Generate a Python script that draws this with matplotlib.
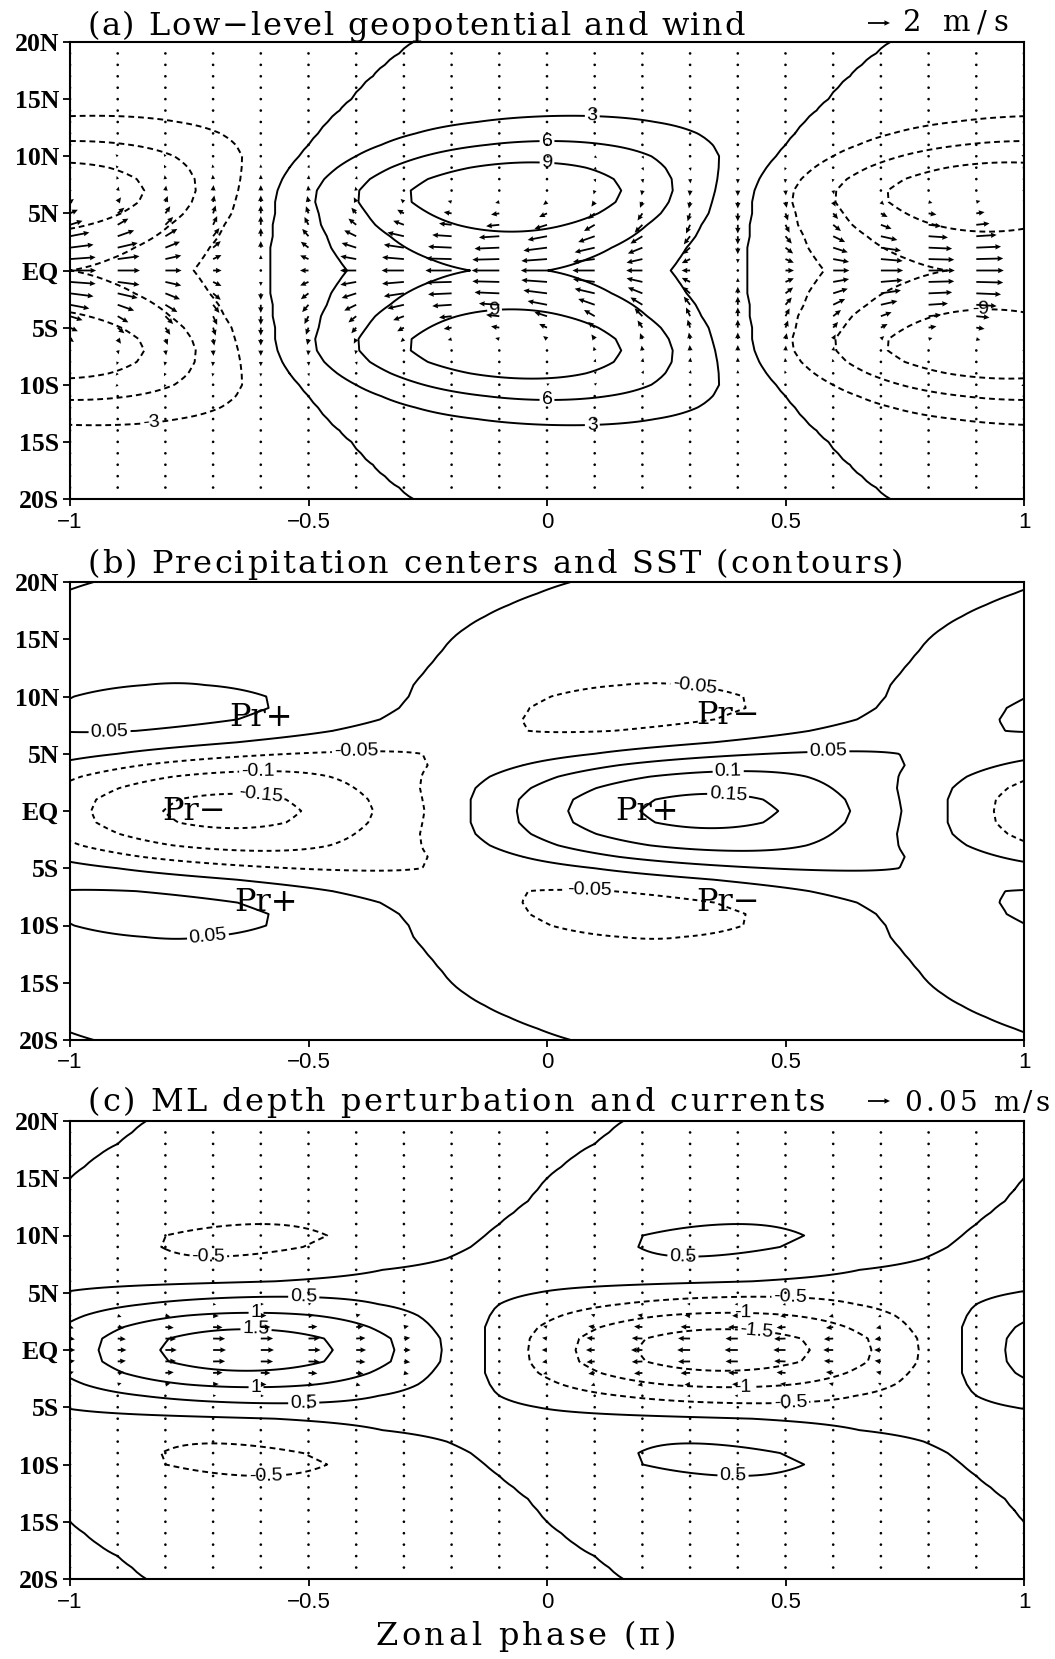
import numpy as np
import matplotlib.pyplot as plt
from matplotlib.font_manager import FontProperties

plt.rcParams['font.family'] = ['Liberation Sans', 'DejaVu Sans']
plt.rcParams['axes.linewidth'] = 1.5

# profile latitudes (deg), mirrored onto the southern side
prof_lat = list(range(0, 21))

# (a) low-level geopotential: amplitude and zonal phase of the high, per latitude
phi_amp = [6.2, 6.9, 7.7, 8.6, 9.6, 10.6, 11.5, 11.7, 11.0, 9.7, 8.2,
           6.5, 5.0, 3.6, 2.5, 1.7, 1.1, 0.7, 0.45, 0.3, 0.2]
phi_pos = [-0.08, -0.08, -0.08, -0.075, -0.075, -0.07, -0.07, -0.065, -0.055, -0.04, -0.02,
           0.0, 0.02, 0.04, 0.065, 0.09, 0.11, 0.135, 0.16, 0.19, 0.22]
# (a) wind amplitudes (m/s)
wind_u_amp = [2.5, 2.45, 2.25, 1.85, 1.2, 0.75, 0.37, 0.12, -0.12, -0.22, -0.25,
              -0.22, -0.18, -0.15, -0.12, -0.1, -0.07, -0.06, -0.05, -0.04, -0.04]
wind_v_amp = [0.0, 0.37, 0.6, 0.75, 0.8, 0.73, 0.6, 0.5, 0.4, 0.3, 0.25,
              0.2, 0.16, 0.13, 0.11, 0.1, 0.085, 0.07, 0.06, 0.05, 0.04]
wind_u_pos = -0.1
wind_v_pos = -0.65

# (b) SST
sst_amp = [0.167, 0.16, 0.14, 0.115, 0.085, 0.055, 0.042, 0.052, 0.062, 0.066, 0.062,
           0.051, 0.045, 0.038, 0.032, 0.026, 0.021, 0.017, 0.014, 0.012, 0.01]
sst_pos = [0.34, 0.34, 0.35, 0.38, 0.45, 0.6, 0.85, 1.05, 1.15, 1.19, 1.21,
           1.22, 1.24, 1.26, 1.28, 1.30, 1.33, 1.37, 1.42, 1.48, 1.55]

# (c) ML depth perturbation
mld_amp = [1.78, 1.72, 1.45, 1.1, 0.7, 0.4, 0.15, 0.3, 0.49, 0.56, 0.58,
           0.5, 0.4, 0.32, 0.25, 0.2, 0.16, 0.13, 0.1, 0.08, 0.06]
mld_pos = [-0.63, -0.63, -0.63, -0.62, -0.6, -0.52, -0.07, 0.155, 0.29, 0.34, 0.37,
           0.4, 0.43, 0.46, 0.48, 0.5, 0.53, 0.56, 0.6, 0.63, 0.66]
# (c) currents (m/s)
cur_u_amp = [0.03, 0.028, 0.022, 0.013, 0.007, 0.004, 0.002, 0.002, 0.002, 0.002, 0.002,
             0.002, 0.002, 0.002, 0.002, 0.002, 0.002, 0.002, 0.002, 0.002, 0.002]
cur_v_amp = [0.0, 0.002, 0.003, 0.004, 0.004, 0.004, 0.003, 0.003, 0.003, 0.002, 0.002,
             0.002, 0.002, 0.002, 0.002, 0.002, 0.002, 0.002, 0.002, 0.002, 0.002]
cur_pos = -0.63

phi_levels = [-9, -6, -3, 0, 3, 6, 9]
sst_levels = [-0.15, -0.1, -0.05, 0, 0.05, 0.1, 0.15]
mld_levels = [-1.5, -1, -0.5, 0, 0.5, 1, 1.5]

lat_ticks = [-20, -15, -10, -5, 0, 5, 10, 15, 20]
lat_labels = ['20S', '15S', '10S', '5S', 'EQ', '5N', '10N', '15N', '20N']
x_ticks = [-1, -0.5, 0, 0.5, 1]
x_labels = ['\u22121', '\u22120.5', '0', '0.5', '1']


def both_sides(p, odd=False):
    p = np.asarray(p, float)
    s = -p[:0:-1] if odd else p[:0:-1]
    return np.concatenate([s, p])


lat = both_sides(prof_lat, odd=True)
x = np.linspace(-1, 1, 201)
xq = np.linspace(-1, 1, 21)


def wave(amp, pos, xx):
    amp = np.asarray(amp)[:, None]
    pos = np.asarray(pos)[:, None] if np.ndim(pos) else pos
    return amp * np.cos(np.pi * (xx[None, :] - pos))


def fmt(v):
    return f'{v:g}'


serif = 'DejaVu Serif'
W, H = 1055, 1659
fig = plt.figure(figsize=(W / 100, H / 100), dpi=100)
axa = fig.add_axes([70 / W, 1 - 499 / H, 954 / W, 457 / H])
axb = fig.add_axes([70 / W, 1 - 1040 / H, 954 / W, 458 / H])
axc = fig.add_axes([70 / W, 1 - 1579 / H, 954 / W, 458 / H])
rend = fig.canvas.get_renderer()


def tracked(x0, base, s, width, size=23):
    # letter-spaced text spread over a given pixel width
    fp = FontProperties(family=serif, size=size)

    def tw(t):
        return rend.get_text_width_height_descent(t + '|', fp, ismath=False)[0] - \
            rend.get_text_width_height_descent('|', fp, ismath=False)[0]

    extra = (width - tw(s)) / max(len(s) - 1, 1)
    for i, ch in enumerate(s):
        if ch == ' ':
            continue
        fig.text((x0 + tw(s[:i]) + i * extra) / W, 1 - base / H, ch, ha='left',
                 va='baseline', fontproperties=fp)


def draw_contours(ax, field, levels, dash):
    ls = [(0, dash) if l < 0 else 'solid' for l in levels]
    return ax.contour(x, lat, field, levels=levels, colors='k',
                      linewidths=1.4, linestyles=ls)


def label(cs, pts):
    return cs.clabel(manual=pts, fmt=fmt, fontsize=14, inline=True, inline_spacing=2)


qkw = dict(units='dots', width=1.8, scale_units='inches', headwidth=3,
           headlength=3.2, headaxislength=3, minlength=1.6, pivot='tail', color='k')

# (a)
phi = wave(both_sides(phi_amp), both_sides(phi_pos), x)
csa = draw_contours(axa, phi, phi_levels, (3, 2))
label(csa, [(0.095, 13.6), (0.095, -13.5), (0.0, 11.25), (0.0, -11.3),
            (0.0, 9.4), (-0.11, -3.4), (0.91, -3.4), (-0.83, -13.5)])
uq = -wave(both_sides(wind_u_amp), wind_u_pos, xq)[1:-1]
vq = wave(both_sides(wind_v_amp, odd=True), wind_v_pos, xq)[1:-1]
qa = axa.quiver(xq, lat[1:-1], uq, vq, scale=2 / 0.22, **qkw)
axa.quiverkey(qa, 890 / W, 1 - 23 / H, 2, '', labelpos='E', coordinates='figure')
tracked(903, 31, '2 m/s', 105, size=21)
tracked(87, 35, '(a) Low\u2212level geopotential and wind', 658)

# (b)
sst = wave(both_sides(sst_amp), both_sides(sst_pos), x)
csb = draw_contours(axb, sst, sst_levels, (2.5, 2))
label(csb, [(-0.917, 6.9), (0.59, 5.1), (-0.71, -11.4), (-0.4, 4.9), (0.31, 11.3),
            (0.09, -7.1), (-0.606, 3.3), (-0.6, 1.6), (0.38, 3.3), (0.38, 1.6)])
for px, py, s in [(-0.6, 8.2, 'Pr+'), (-0.74, 0, 'Pr\u2212'), (0.21, 0, 'Pr+'),
                  (0.38, 8.3, 'Pr\u2212'), (-0.59, -8.0, 'Pr+'), (0.38, -8.0, 'Pr\u2212')]:
    axb.text(px, py, s, family=serif, size=23, ha='center', va='center')
tracked(87, 573, '(b) Precipitation centers and SST (contours)', 816)

# (c)
mld = wave(both_sides(mld_amp), both_sides(mld_pos), x)
csc = draw_contours(axc, mld, mld_levels, (3, 2))
label(csc, [(-0.51, 4.56), (-0.61, 3.3), (-0.61, 1.84), (-0.61, -3.3), (-0.51, -4.6),
            (0.51, 4.6), (0.41, 3.3), (0.44, 2.0), (0.41, -3.25), (0.51, -4.5),
            (-0.59, -11), (0.39, -11), (-0.71, 8.0), (0.285, 8.2)])
cu = wave(both_sides(cur_u_amp), cur_pos, xq)[1:-1]
cv = wave(both_sides(cur_v_amp, odd=True), cur_pos + 0.5, xq)[1:-1]
qc = axc.quiver(xq, lat[1:-1], cu, cv, scale=0.05 / 0.22, **qkw)
axc.quiverkey(qc, 890 / W, 1 - 1101 / H, 0.05, '', labelpos='E', coordinates='figure')
tracked(904, 1111, '0.05 m/s', 146, size=20)
tracked(87, 1111, '(c) ML depth perturbation and currents', 738)

for ax in (axa, axb, axc):
    ax.set_xlim(-1, 1)
    ax.set_ylim(-20, 20)
    ax.set_yticks(lat_ticks)
    ax.set_yticklabels(lat_labels, family='Liberation Serif', weight='bold', size=18.5)
    ax.set_xticks(x_ticks)
    ax.set_xticklabels(x_labels, size=16)
    ax.tick_params(direction='out', length=5, width=1.3, pad=3)
    ax.tick_params(axis='x', pad=4)

tracked(376, 1645, 'Zonal phase (\u03c0)', 300, size=23)

fig.savefig('out.png', dpi=100)
